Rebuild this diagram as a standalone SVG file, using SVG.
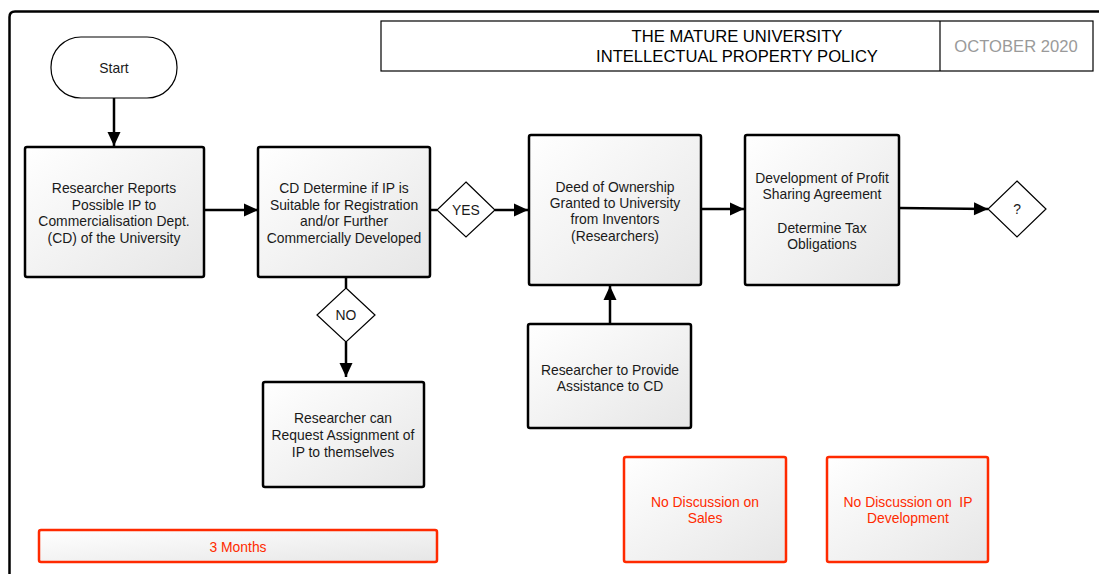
<svg xmlns="http://www.w3.org/2000/svg" width="1099" height="574" viewBox="0 0 1099 574">
  <style>
    text { font-family: "Liberation Sans", Arial, sans-serif; font-size: 13.9px; fill: #1a1a1a; text-anchor: middle; dominant-baseline: central; }
    .box { fill: url(#boxFill); stroke: #000; stroke-width: 2.5; }
    .warn { fill: url(#boxFill); stroke: #ff2a00; stroke-width: 2.5; }
    .warn-t { fill: #ff2a00; }
    .diamond { fill: #fff; stroke: #000; stroke-width: 1.2; }
    .link { fill: none; stroke: #000; stroke-width: 2.5; }
    .title { font-size: 16.6px; fill: #000; }
    .date { font-size: 16.6px; fill: #9a9a9a; }
  </style>
  <defs>
    <linearGradient id="boxFill" x1="0" y1="0" x2="1" y2="1">
      <stop offset="0" stop-color="#ffffff"/>
      <stop offset="1" stop-color="#e6e6e6"/>
    </linearGradient>
    <marker id="arrow" markerUnits="userSpaceOnUse" markerWidth="16" markerHeight="16" viewBox="0 0 16 16" refX="15" refY="8" orient="auto">
      <path d="M1,1.5 L15,8 L1,14.5 Z" fill="#000"/>
    </marker>
  </defs>

  <!-- page frame -->
  <path d="M9.5,574 L9.5,17 Q9.5,11.5 15,11.5 L1099,11.5" fill="none" stroke="#000" stroke-width="2.5"/>

  <!-- title block -->
  <g id="title">
    <rect x="381" y="21" width="712" height="50" fill="#fff" stroke="#000" stroke-width="1.2"/>
    <line x1="940" y1="21" x2="940" y2="71" stroke="#000" stroke-width="1.2"/>
    <text class="title" x="737" y="36">THE MATURE UNIVERSITY</text>
    <text class="title" x="737" y="56">INTELLECTUAL PROPERTY POLICY</text>
    <text class="date" x="1016" y="46">OCTOBER 2020</text>
  </g>

  <!-- connectors -->
  <g id="connectors">
    <line class="link" x1="114" y1="98" x2="114" y2="146" marker-end="url(#arrow)"/>
    <line class="link" x1="204" y1="210" x2="258" y2="210" marker-end="url(#arrow)"/>
    <line class="link" x1="430" y1="210" x2="437" y2="210"/>
    <line class="link" x1="495" y1="210" x2="528" y2="210" marker-end="url(#arrow)"/>
    <line class="link" x1="701" y1="209" x2="744" y2="209" marker-end="url(#arrow)"/>
    <line class="link" x1="899" y1="208" x2="988" y2="209" marker-end="url(#arrow)"/>
    <line class="link" x1="346" y1="277" x2="346" y2="288"/>
    <line class="link" x1="346" y1="342" x2="346" y2="377" marker-end="url(#arrow)"/>
    <line class="link" x1="610" y1="323" x2="610" y2="286" marker-end="url(#arrow)"/>
  </g>

  <g id="start">
    <rect x="51" y="37" width="126" height="61" rx="30" ry="30" fill="#fff" stroke="#000" stroke-width="1.2"/>
    <text x="114" y="68">Start</text>
  </g>

  <g id="report">
    <rect class="box" x="25" y="147" width="179" height="130" rx="2"/>
    <text x="114" y="188">Researcher Reports</text>
    <text x="114" y="205">Possible IP to</text>
    <text x="114" y="221">Commercialisation Dept.</text>
    <text x="114" y="238">(CD) of the University</text>
  </g>

  <g id="determine">
    <rect class="box" x="258" y="147" width="172" height="130" rx="2"/>
    <text x="344" y="188">CD Determine if IP is</text>
    <text x="344" y="205">Suitable for Registration</text>
    <text x="344" y="221">and/or Further</text>
    <text x="344" y="238">Commercially Developed</text>
  </g>

  <g id="yes">
    <path class="diamond" d="M466,182 L495,210 L466,237 L437,210 Z"/>
    <text x="466" y="210">YES</text>
  </g>

  <g id="deed">
    <rect class="box" x="529" y="135" width="172" height="150" rx="2"/>
    <text x="615" y="187">Deed of Ownership</text>
    <text x="615" y="203">Granted to University</text>
    <text x="615" y="219">from Inventors</text>
    <text x="615" y="236">(Researchers)</text>
  </g>

  <g id="profit">
    <rect class="box" x="745" y="135" width="154" height="150" rx="2"/>
    <text x="822" y="178">Development of Profit</text>
    <text x="822" y="194">Sharing Agreement</text>
    <text x="822" y="228">Determine Tax</text>
    <text x="822" y="244">Obligations</text>
  </g>

  <g id="unknown">
    <path class="diamond" d="M1017,181 L1046,209 L1017,237 L988,209 Z"/>
    <text x="1017" y="209">?</text>
  </g>

  <g id="no">
    <path class="diamond" d="M346,288 L375,315 L346,342 L317,315 Z"/>
    <text x="346" y="315">NO</text>
  </g>

  <g id="assignment">
    <rect class="box" x="263" y="382" width="161" height="105" rx="2"/>
    <text x="343" y="418">Researcher can</text>
    <text x="343" y="435">Request Assignment of</text>
    <text x="343" y="452">IP to themselves</text>
  </g>

  <g id="assistance">
    <rect class="box" x="528" y="324" width="163" height="104" rx="2"/>
    <text x="610" y="370">Researcher to Provide</text>
    <text x="610" y="386">Assistance to CD</text>
  </g>

  <g id="months">
    <rect class="warn" x="39" y="530" width="398" height="32" rx="2"/>
    <text class="warn-t" x="238" y="547">3 Months</text>
  </g>

  <g id="no-sales">
    <rect class="warn" x="624" y="457" width="162" height="105" rx="2"/>
    <text class="warn-t" x="705" y="502">No Discussion on</text>
    <text class="warn-t" x="705" y="518">Sales</text>
  </g>

  <g id="no-development">
    <rect class="warn" x="827" y="457" width="161" height="105" rx="2"/>
    <text class="warn-t" x="908" y="502">No Discussion on&#160; IP</text>
    <text class="warn-t" x="908" y="518">Development</text>
  </g>
</svg>
